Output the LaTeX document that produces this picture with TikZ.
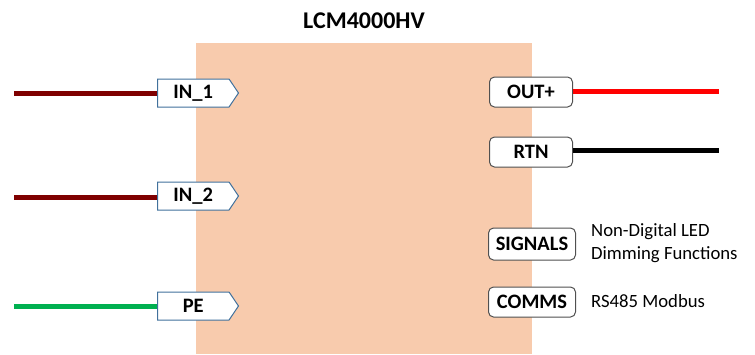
\documentclass[tikz,border=0pt]{standalone}
\usepackage{fontspec}
\setmainfont{Carlito}
\usetikzlibrary{shapes.symbols}
\definecolor{body}{HTML}{F8CBAD}
\definecolor{inborder}{HTML}{41719C}
\definecolor{outborder}{HTML}{505050}
\definecolor{maroonline}{HTML}{7F0000}
\definecolor{greenline}{HTML}{00B050}
\definecolor{redline}{HTML}{FF0000}
\tikzset{
  inbox/.style={signal, signal to=east, signal pointer angle=112, draw=inborder, line width=1pt, fill=white,
    minimum height=28pt, minimum width=81pt, inner sep=0pt, font=\fontsize{20.5}{24}\selectfont\bfseries},
  outbox/.style={rectangle, rounded corners=5pt, draw=outborder, line width=1pt, fill=white,
    minimum height=30pt, inner sep=0pt, font=\fontsize{20.5}{24}\selectfont\bfseries},
  wire/.style={line width=5pt},
  desc/.style={anchor=west, align=left, inner sep=0pt, font=\fontsize{18.7}{23}\selectfont},
}
\begin{document}
\begin{tikzpicture}[x=1pt,y=-1pt]
\useasboundingbox (0,0) rectangle (755,354);
\fill[body] (196,43) rectangle (532,354);
\node[font=\fontsize{24}{28}\selectfont\bfseries] (title) at (364,21) {LCM4000HV};
% inputs
\node[inbox, anchor=west] (in1) at (157,93) {IN\_1\hspace{8pt}};
\node[inbox, anchor=west] (in2) at (157,196) {IN\_2\hspace{8pt}};
\node[inbox, anchor=west] (pe) at (157,306) {PE\hspace{8pt}};
\coordinate (s1) at (14,93);
\coordinate (s2) at (14,197);
\coordinate (s3) at (14,306);
\draw[wire, maroonline] (s1) -- (s1 -| in1.west);
\draw[wire, maroonline] (s2) -- (s2 -| in2.west);
\draw[wire, greenline] (s3) -- (s3 -| pe.west);
% outputs
\node[outbox, minimum width=83pt, anchor=west] (out) at (489,92) {OUT+};
\node[outbox, minimum width=83pt, anchor=west] (rtn) at (489,152) {RTN};
\node[outbox, minimum width=87pt, anchor=west, minimum height=32pt] (sig) at (488,244) {SIGNALS};
\node[outbox, minimum width=87pt, anchor=west] (comms) at (488,302) {COMMS};
\coordinate (e1) at (719,91.5);
\coordinate (e2) at (719,150.5);
\draw[wire, redline] (e1 -| out.east) -- (e1);
\draw[wire, black] (e2 -| rtn.east) -- (e2);
\node[desc] (sigtxt) at (591,243) {Non-Digital LED\\Dimming Functions};
\node[desc] (commstxt) at (591,301) {RS485 Modbus};
\end{tikzpicture}
\end{document}
